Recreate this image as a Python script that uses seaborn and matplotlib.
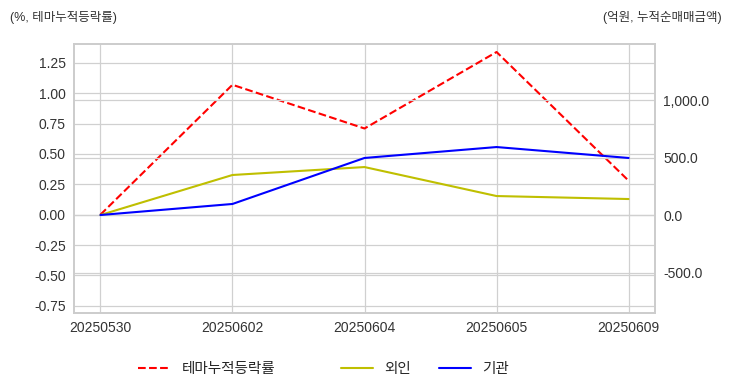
import matplotlib
matplotlib.use("Agg")
import matplotlib.pyplot as plt
import matplotlib.ticker as mticker
import seaborn as sns
import pandas as pd

dates = ["20250530", "20250602", "20250604", "20250605", "20250609"]
theme_rate = [0.0, 1.07, 0.71, 1.34, 0.28]
foreign_net = [0.0, 348.0, 417.0, 165.0, 139.0]
inst_net = [0.0, 96.0, 496.0, 591.0, 496.0]

sns.set_style("whitegrid")
plt.rcParams['font.family'] = ['Liberation Sans', 'Noto Sans CJK KR', 'DejaVu Sans']
plt.rcParams['axes.unicode_minus'] = False

df = pd.DataFrame({"date": dates, "theme": theme_rate,
                   "foreign": foreign_net, "inst": inst_net})

fig = plt.figure(figsize=(7.32, 3.92), dpi=100)
ax = fig.add_axes([74 / 732, 1 - 313 / 392, 581 / 732, 269 / 392])
ax2 = ax.twinx()

sns.lineplot(data=df, x="date", y="theme", ax=ax, color="r",
             linestyle="--", linewidth=1.5, label="테마누적등락률", legend=False)
sns.lineplot(data=df, x="date", y="foreign", ax=ax2, color="y",
             linewidth=1.5, label="외인", legend=False)
sns.lineplot(data=df, x="date", y="inst", ax=ax2, color="b",
             linewidth=1.5, label="기관", legend=False)

ax.set_xlim(-0.2, 4.2)
ax.set_ylim(-0.81, 1.406)
ax.set_yticks([-0.75, -0.5, -0.25, 0, 0.25, 0.5, 0.75, 1.0, 1.25])
ax.yaxis.set_major_formatter(mticker.FormatStrFormatter("%.2f"))
ax2.set_ylim(-852, 1487)
ax2.set_yticks([-500, 0, 500, 1000])
ax2.yaxis.set_major_formatter(mticker.StrMethodFormatter("{x:,.1f}"))

for a in (ax, ax2):
    a.set_xlabel("")
    a.set_ylabel("")
    a.tick_params(labelsize=10, colors="#333333", length=0, pad=6)
    a.grid(True, color="#d0d0d0", linewidth=0.9)
    for s in a.spines.values():
        s.set_color("#cccccc")
        s.set_linewidth(1.2)
ax2.grid(True, axis="y", color="#d0d0d0", linewidth=0.9)

fig.text(10 / 732, 1 - 17 / 392, "(%, 테마누적등락률)", fontsize=9,
         color="#333333", va="center", ha="left")
fig.text(722 / 732, 1 - 17 / 392, "(억원, 누적순매매금액)", fontsize=9,
         color="#333333", va="center", ha="right")

# two legends, one per axis, side by side under the plot
h1, l1 = ax.get_legend_handles_labels()
h2, l2 = ax2.get_legend_handles_labels()
fig.legend(h1, l1, loc="center", bbox_to_anchor=(207 / 732, 1 - 369 / 392),
           ncol=1, frameon=False, fontsize=10.5, handlelength=2.2)
fig.legend(h2, l2, loc="center", bbox_to_anchor=(425 / 732, 1 - 369 / 392),
           ncol=2, frameon=False, fontsize=10.5, handlelength=2.2, columnspacing=1.9)

fig.savefig("out.png", dpi=100)
